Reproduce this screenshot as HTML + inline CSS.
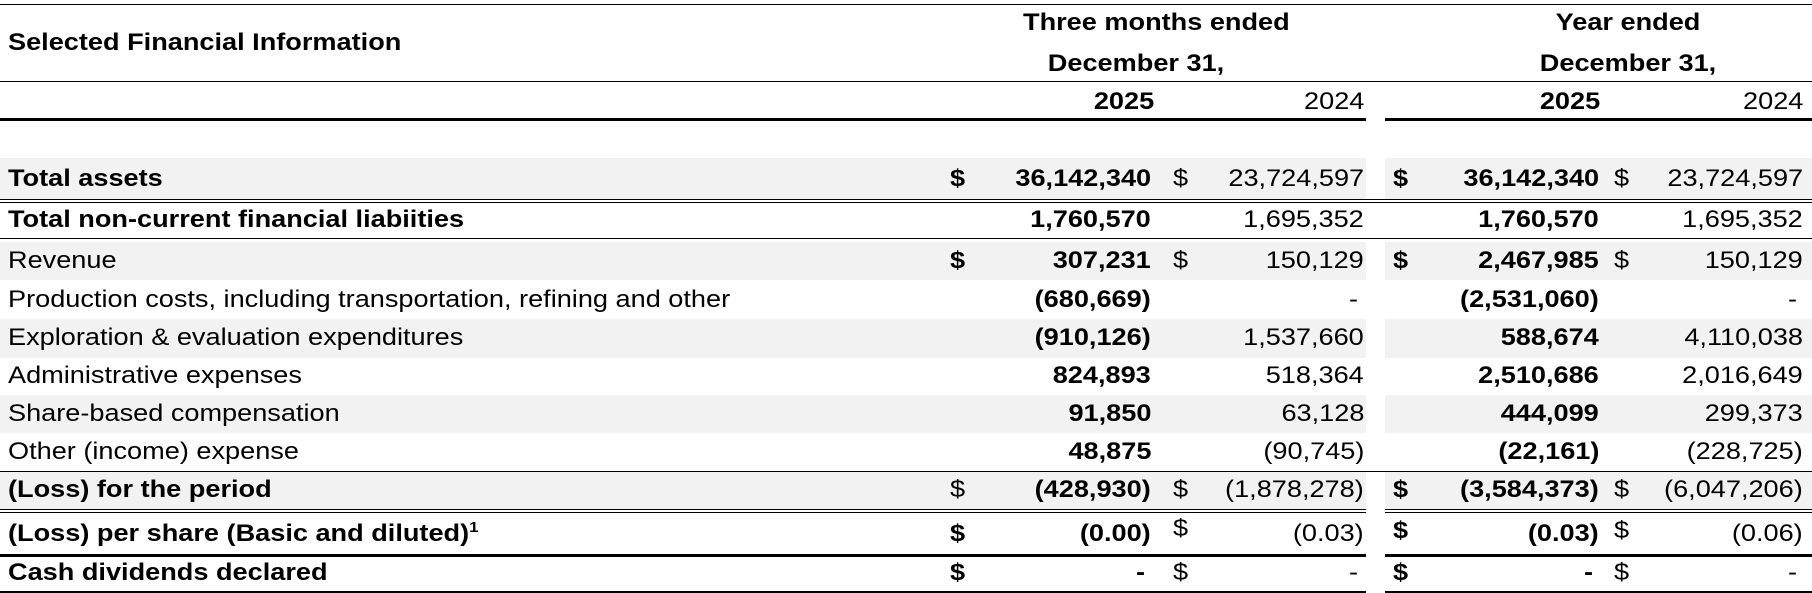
<!DOCTYPE html>
<html><head><meta charset="utf-8"><style>
html,body{margin:0;padding:0;background:#fff;}
body{width:1812px;height:593px;position:relative;overflow:hidden;font-family:"Liberation Sans",sans-serif;font-size:24px;color:#000;}
.l{position:absolute;background:#000;}
.g{position:absolute;background:#f2f2f2;}
.t{position:absolute;height:30px;line-height:30px;white-space:nowrap;transform:scaleX(1.13);transform-origin:left center;}
.b{font-weight:bold;}
.r{text-align:right;transform-origin:right center;}
.c{transform-origin:center center;}
</style></head><body>
<div class="g" style="left:0;top:158px;width:1366px;height:41px"></div><div class="g" style="left:1385px;top:158px;width:427px;height:41px"></div>
<div class="g" style="left:0;top:242px;width:1366px;height:38px"></div><div class="g" style="left:1385px;top:242px;width:427px;height:38px"></div>
<div class="g" style="left:0;top:319px;width:1366px;height:39px"></div><div class="g" style="left:1385px;top:319px;width:427px;height:39px"></div>
<div class="g" style="left:0;top:395px;width:1366px;height:38px"></div><div class="g" style="left:1385px;top:395px;width:427px;height:38px"></div>
<div class="g" style="left:0;top:472px;width:1366px;height:37px"></div><div class="g" style="left:1385px;top:472px;width:427px;height:37px"></div>
<div class="l" style="left:0;top:4px;width:1812px;height:1px"></div>
<div class="l" style="left:0;top:81px;width:1812px;height:1px"></div>
<div class="l" style="left:0;top:118px;width:1366px;height:3px"></div><div class="l" style="left:1385px;top:118px;width:427px;height:3px"></div>
<div class="l" style="left:0;top:199px;width:1812px;height:1px"></div><div class="l" style="left:0;top:202px;width:1812px;height:1px"></div>
<div class="l" style="left:0;top:238px;width:1812px;height:1px"></div>
<div class="l" style="left:0;top:471px;width:1812px;height:1px"></div>
<div class="l" style="left:0;top:509px;width:1366px;height:1px"></div><div class="l" style="left:1385px;top:509px;width:427px;height:1px"></div>
<div class="l" style="left:0;top:512px;width:1366px;height:1px"></div><div class="l" style="left:1385px;top:512px;width:427px;height:1px"></div>
<div class="l" style="left:0;top:554px;width:1366px;height:3px"></div><div class="l" style="left:1385px;top:554px;width:427px;height:3px"></div>
<div class="l" style="left:0;top:591px;width:1366px;height:2px"></div><div class="l" style="left:1385px;top:591px;width:427px;height:2px"></div>
<div class="t b" style="left:8px;top:28px">Selected Financial Information</div>
<div class="t b c" style="left:1036px;width:200px;text-align:center;top:8px">Three months ended</div>
<div class="t b c" style="left:1036px;width:200px;text-align:center;top:49px">December 31,</div>
<div class="t b c" style="left:1528px;width:200px;text-align:center;top:8px">Year ended</div>
<div class="t b c" style="left:1528px;width:200px;text-align:center;top:49px">December 31,</div>
<div class="t b c" style="left:1084px;width:80px;text-align:center;top:87px">2025</div>
<div class="t r" style="right:448px;top:87px">2024</div>
<div class="t b c" style="left:1530px;width:80px;text-align:center;top:87px">2025</div>
<div class="t r" style="right:9px;top:87px">2024</div>

<div class="t b" style="left:8px;top:164px">Total assets</div>
<div class="t b" style="left:950px;top:164px">$</div><div class="t b r" style="right:661px;top:164px">36,142,340</div>
<div class="t" style="left:1173px;top:164px">$</div><div class="t r" style="right:448px;top:164px">23,724,597</div>
<div class="t b" style="left:1393px;top:164px">$</div><div class="t b r" style="right:213px;top:164px">36,142,340</div>
<div class="t" style="left:1614px;top:164px">$</div><div class="t r" style="right:9px;top:164px">23,724,597</div>

<div class="t b" style="left:8px;top:205px">Total non-current financial liabiities</div>
<div class="t b r" style="right:661px;top:205px">1,760,570</div><div class="t r" style="right:448px;top:205px">1,695,352</div>
<div class="t b r" style="right:213px;top:205px">1,760,570</div><div class="t r" style="right:9px;top:205px">1,695,352</div>

<div class="t" style="left:8px;top:246px">Revenue</div>
<div class="t b" style="left:950px;top:246px">$</div><div class="t b r" style="right:661px;top:246px">307,231</div>
<div class="t" style="left:1173px;top:246px">$</div><div class="t r" style="right:448px;top:246px">150,129</div>
<div class="t b" style="left:1393px;top:246px">$</div><div class="t b r" style="right:213px;top:246px">2,467,985</div>
<div class="t" style="left:1614px;top:246px">$</div><div class="t r" style="right:9px;top:246px">150,129</div>

<div class="t" style="left:8px;top:285px">Production costs, including transportation, refining and other</div>
<div class="t b r" style="right:661px;top:285px">(680,669)</div><div class="t r" style="right:454px;top:285px">-</div>
<div class="t b r" style="right:213px;top:285px">(2,531,060)</div><div class="t r" style="right:15px;top:285px">-</div>

<div class="t" style="left:8px;top:323px">Exploration &amp; evaluation expenditures</div>
<div class="t b r" style="right:661px;top:323px">(910,126)</div><div class="t r" style="right:448px;top:323px">1,537,660</div>
<div class="t b r" style="right:213px;top:323px">588,674</div><div class="t r" style="right:9px;top:323px">4,110,038</div>

<div class="t" style="left:8px;top:361px">Administrative expenses</div>
<div class="t b r" style="right:661px;top:361px">824,893</div><div class="t r" style="right:448px;top:361px">518,364</div>
<div class="t b r" style="right:213px;top:361px">2,510,686</div><div class="t r" style="right:9px;top:361px">2,016,649</div>

<div class="t" style="left:8px;top:399px">Share-based compensation</div>
<div class="t b r" style="right:661px;top:399px">91,850</div><div class="t r" style="right:448px;top:399px">63,128</div>
<div class="t b r" style="right:213px;top:399px">444,099</div><div class="t r" style="right:9px;top:399px">299,373</div>

<div class="t" style="left:8px;top:437px">Other (income) expense</div>
<div class="t b r" style="right:661px;top:437px">48,875</div><div class="t r" style="right:448px;top:437px">(90,745)</div>
<div class="t b r" style="right:213px;top:437px">(22,161)</div><div class="t r" style="right:9px;top:437px">(228,725)</div>

<div class="t b" style="left:8px;top:475px">(Loss) for the period</div>
<div class="t" style="left:950px;top:475px">$</div><div class="t b r" style="right:661px;top:475px">(428,930)</div>
<div class="t" style="left:1173px;top:475px">$</div><div class="t r" style="right:448px;top:475px">(1,878,278)</div>
<div class="t b" style="left:1393px;top:475px">$</div><div class="t b r" style="right:213px;top:475px">(3,584,373)</div>
<div class="t" style="left:1614px;top:475px">$</div><div class="t r" style="right:9px;top:475px">(6,047,206)</div>

<div class="t b" style="left:8px;top:519px">(Loss) per share (Basic and diluted)<sup style="font-size:15px;line-height:0">1</sup></div>
<div class="t b" style="left:950px;top:519px">$</div><div class="t b r" style="right:661px;top:519px">(0.00)</div>
<div class="t" style="left:1173px;top:514px">$</div><div class="t r" style="right:448px;top:519px">(0.03)</div>
<div class="t b" style="left:1393px;top:516px">$</div><div class="t b r" style="right:213px;top:519px">(0.03)</div>
<div class="t" style="left:1614px;top:516px">$</div><div class="t r" style="right:9px;top:519px">(0.06)</div>

<div class="t b" style="left:8px;top:558px">Cash dividends declared</div>
<div class="t b" style="left:950px;top:558px">$</div><div class="t b r" style="right:667px;top:558px">-</div>
<div class="t" style="left:1173px;top:558px">$</div><div class="t r" style="right:454px;top:558px">-</div>
<div class="t b" style="left:1393px;top:558px">$</div><div class="t b r" style="right:219px;top:558px">-</div>
<div class="t" style="left:1614px;top:558px">$</div><div class="t r" style="right:15px;top:558px">-</div>
</body></html>
